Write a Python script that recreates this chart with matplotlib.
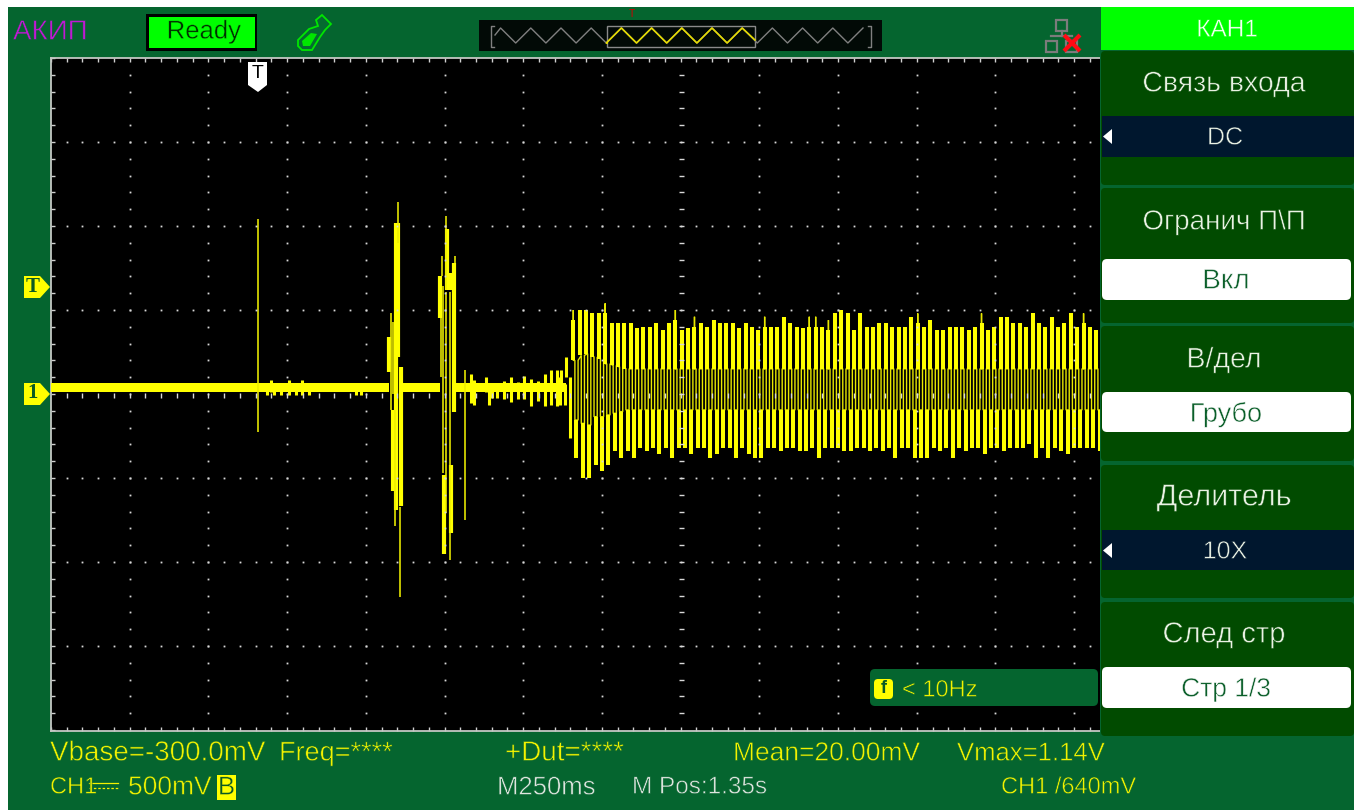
import numpy as np
import matplotlib
matplotlib.use("Agg")
import matplotlib.pyplot as plt
from matplotlib.patches import Rectangle, FancyBboxPatch, Polygon
from matplotlib.patheffects import Stroke

plt.rcParams['font.family'] = ['Liberation Sans', 'DejaVu Sans']

# === CAPTURE DATA (time in ms after trigger, level in volts) ===
LONE_SPIKE = [7, 1.04, -0.224]

# band = the flat noisy trace before the burst starts
BAND_HI, BAND_LO = 0.064, 0.014
BAND_START = [-650, 461, 632]
BAND_END = [424, 586, 985]

# thick and thin vertical strokes of the two transients (t, top, bottom)
THICK_T = [424, 437, 447, 453, 461, 587, 599, 609, 618, 620, 630]
THICK_TOP = [0.34, -0.095, 1.02, 1.02, 0.16, 0.70, -0.48, 0.98, 0.72, -0.42, 0.78]
THICK_BOT = [0.13, -0.58, -0.69, 0.22, -0.667, 0.45, -0.95, 0.62, 0.62, -0.83, -0.105]
THIN_T = [431, 435, 442, 451, 457, 588, 591, 594, 606, 606, 616, 618, 632, 665]
THIN_TOP = [0.48, 0.43, -0.095, 1.14, -0.67, 0.45, 0.82, 0.64, 1.06, 0.61, 0.61, -0.83, 0.82, 0.14]
THIN_BOT = [-0.095, 0.0, -0.786, 0.9, -1.206, 0.1, 0.70, -0.47, 0.62, -0.71, -0.83, -0.99, 0.78, -0.75]

# small noise bumps on the band
BUMP_T = [37, 48, 58, 79, 106, 127, 148, 169, 318, 334, 683, 694, 731, 741, 752, 768,
          790, 810, 832, 851, 874, 896, 918, 937, 956, 966, 969, 982, 987, 998]
BUMP_TOP = [0.063, 0.083, 0.063, 0.063, 0.083, 0.063, 0.083, 0.063, 0.063, 0.063, 0.12, 0.083,
            0.103, 0.063, 0.063, 0.063, 0.08, 0.10, 0.07, 0.11, 0.09, 0.08, 0.12, 0.14, 0.14,
            0.10, 0.14, 0.06, 0.22, 0.10]
BUMP_BOT = [-0.006, 0.014, -0.006, -0.006, -0.006, -0.006, -0.006, -0.006, -0.006, -0.006,
            -0.055, -0.065, 0.014, -0.065, -0.026, -0.026, -0.03, -0.05, -0.03, -0.03, -0.07,
            -0.04, -0.07, -0.065, -0.07, -0.065, 0.02, -0.065, 0.10, -0.26]

# periodic part, one top and one bottom per mains cycle
BURST_T0 = 1009
BURST_PERIOD = 20.26
BURST_TOP = [0.50, 0.50, 0.50, 0.48, 0.48, 0.54, 0.42, 0.42, 0.42, 0.42, 0.39, 0.40, 0.40, 0.42,
             0.38, 0.42, 0.50, 0.38, 0.39, 0.46, 0.42, 0.40, 0.44, 0.42, 0.42, 0.42,
             0.39, 0.42, 0.40, 0.38, 0.46, 0.40, 0.40, 0.46, 0.42, 0.40, 0.39, 0.46, 0.46, 0.40,
             0.44, 0.48, 0.50, 0.48, 0.38, 0.48, 0.40, 0.40, 0.42, 0.42, 0.40, 0.40, 0.40, 0.46,
             0.48, 0.40, 0.44, 0.38, 0.38, 0.40, 0.40, 0.40, 0.38, 0.40, 0.48, 0.38, 0.40, 0.46,
             0.46, 0.42, 0.42, 0.40, 0.48, 0.42, 0.40, 0.46, 0.40, 0.42, 0.48, 0.40, 0.48, 0.40, 0.38]
BURST_BOT = [-0.38, -0.50, -0.50, -0.42, -0.46, -0.42, -0.34, -0.38, -0.34, -0.38, -0.32, -0.34,
             -0.32, -0.36, -0.32, -0.38, -0.32, -0.32, -0.36, -0.32, -0.32, -0.38, -0.36, -0.32,
             -0.32, -0.38,
             -0.32, -0.36, -0.38, -0.38, -0.32, -0.32, -0.34, -0.32, -0.32, -0.34, -0.34, -0.32,
             -0.38, -0.32, -0.32, -0.32, -0.34, -0.34, -0.32, -0.32, -0.34, -0.32, -0.34, -0.32,
             -0.38, -0.32, -0.32, -0.38,
             -0.38, -0.38, -0.32, -0.34, -0.32, -0.38, -0.32, -0.34, -0.32, -0.32, -0.36, -0.32,
             -0.32, -0.34, -0.32, -0.32, -0.32, -0.30, -0.38, -0.32, -0.38, -0.32, -0.34, -0.36,
             -0.32, -0.32, -0.32, -0.32, -0.34]
SHELF_HI_START = [0.20, 0.23, 0.24, 0.22, 0.21, 0.18, 0.17, 0.16]
SHELF_LO_START = [-0.155, -0.175, -0.185, -0.135, -0.135, -0.125, -0.115, -0.105]
SHELF_HI, SHELF_LO = 0.15, -0.095
SPIKE_CYCLES = [0, 5, 16, 19, 30, 37, 38, 40, 54, 64, 80]

YEL = '#ffff00'
BODY = '#05652f'
PANEL = '#014b00'
TXT = '#eaf2e4'
SCALE_TEXT = '#f2f200'

# === FIGURE AND UI LAYER ===
fig = plt.figure(figsize=(13.54, 8.10), dpi=100, facecolor='white')
W, H = 1354.0, 810.0

back = fig.add_axes([0, 0, 1, 1], zorder=0)
back.set_xlim(0, W); back.set_ylim(H, 0); back.axis('off')
back.add_patch(Rectangle((8, 7), W - 8, H - 7, fc=BODY, ec='none'))

# === SCOPE SCREEN ===
ax = fig.add_axes([51 / W, 1 - 731 / H, 1049 / W, 673 / H], zorder=1, facecolor='black')
ax.set_xlim(-650, 2682)
ax.set_ylim(-2.006, 2.0)
for side in ['top', 'bottom', 'left']:
    ax.spines[side].set_color('#c4c8c4')
    ax.spines[side].set_linewidth(1.3)
ax.spines['right'].set_visible(False)
x_sub = np.arange(-650, 2683, 50)
y_sub = np.arange(-2.0, 2.01, 0.1)
ax.set_xticks(x_sub); ax.set_yticks(y_sub)
ax.tick_params(direction='in', top=True, bottom=True, left=True, right=False, length=2.6,
               width=1.0, color='#d0d0d0', labelleft=False, labelbottom=False)

# trace
thin, thick = 1.15, 3.0
for a, b in zip(BAND_START, BAND_END):
    ax.fill_between([a, b], BAND_HI, BAND_LO, color=YEL, lw=0, zorder=3)
ax.vlines(BUMP_T, BUMP_BOT, BUMP_TOP, color=YEL, lw=2.2, zorder=3)
ax.vlines(THICK_T, THICK_BOT, THICK_TOP, color=YEL, lw=thick, zorder=3)
ax.vlines(THIN_T, THIN_BOT, THIN_TOP, color='#eeee00', lw=thin, zorder=3)
ax.vlines(LONE_SPIKE[0], LONE_SPIKE[2], LONE_SPIKE[1], color='#eeee00', lw=thin, zorder=3)

px, py = [], []
T = BURST_PERIOD
bar_t, bar_top, bar_bot = [], [], []
for i, (top, bot) in enumerate(zip(BURST_TOP, BURST_BOT)):
    t = BURST_T0 + i * T
    hi = SHELF_HI_START[i] if i < len(SHELF_HI_START) else SHELF_HI
    lo = SHELF_LO_START[i] if i < len(SHELF_LO_START) else SHELF_LO
    sh = top - 0.06 if i in SPIKE_CYCLES else top
    bar_t += [t, t + .5 * T]
    bar_top += [sh, lo]
    bar_bot += [hi, bot]
    if i in SPIKE_CYCLES:
        px += [t, t, t]
        py += [hi, top, hi]
    px += [t + .25 * T, t + .25 * T, t + .75 * T, t + .75 * T]
    py += [hi, lo, lo, hi]
ax.plot(px, py, color='#e8e800', lw=1.0, solid_joinstyle='miter', solid_capstyle='butt', zorder=3)
ax.vlines(bar_t, bar_bot, bar_top, color=YEL, lw=2.9, zorder=3)

# graticule sits over the trace
div_x = np.arange(-400, 2682, 250)
div_y = np.arange(-1.5, 1.51, 0.5)
gx, gy = np.meshgrid(div_x[div_x != 1350], y_sub[1:-1])
ax.plot(gx.ravel(), gy.ravel(), ls='none', marker='s', ms=1.3, mew=0, color='#d8d8d8', zorder=4)
rows = div_y[np.abs(div_y) > 0.01]
gx, gy = np.meshgrid(x_sub[1:], rows)
ax.plot(gx.ravel(), gy.ravel(), ls='none', marker='s', ms=1.3, mew=0, color='#d8d8d8', zorder=4)
ax.plot(x_sub[1:], np.zeros(len(x_sub) - 1) - 0.004, ls='none', marker='|', ms=3.6, mew=1.0,
        color='#d8d8d8', zorder=4)
ax.plot(np.full(len(y_sub) - 2, 1350), y_sub[1:-1], ls='none', marker='_', ms=3.6, mew=1.0,
        color='#d8d8d8', zorder=4)

# === OVERLAY: MENU, MARKERS, TEXT ===
ui = fig.add_axes([0, 0, 1, 1], zorder=2)
ui.set_xlim(0, W); ui.set_ylim(H, 0); ui.axis('off'); ui.patch.set_alpha(0)

def label(x, y, s, color=TXT, size=17.5, ha='left', bg=None, thinning=0.4, **kw):
    t = ui.text(x, y + 1.5, s, color=color, fontsize=size, ha=ha, va='center', **kw)
    # the scope font is hairline, so eat into the glyph edge with the background colour
    if bg:
        t.set_path_effects([Stroke(linewidth=thinning, foreground=bg)])

def rbox(x0, y0, x1, y1, fc, r=4):
    ui.add_patch(FancyBboxPatch((x0 + r, y0 + r), x1 - x0 - 2 * r, y1 - y0 - 2 * r,
                                boxstyle=f"round,pad={r},rounding_size={r}", fc=fc, ec='none'))

# right hand menu
ui.add_patch(Rectangle((1101, 7), W - 1101, 43, fc='#00ff00', ec='none'))
ui.add_patch(Rectangle((1100, 50), W - 1100, 687, fc=BODY, ec='none'))
for y0, y1 in [(51, 185), (188, 323), (326, 461), (465, 598), (602, 736)]:
    rbox(1101, y0, W, y1, PANEL)
for y0, y1 in [(116, 157), (530, 570)]:
    ui.add_patch(Rectangle((1102, y0), W - 1102, y1 - y0, fc='#00172e', ec='none'))
    ui.add_patch(Polygon([(1112, y0 + 13), (1112, y0 + 28), (1103, y0 + 20.5)], fc='white', ec='none'))
for y0, y1 in [(259, 300), (392, 432), (667, 708)]:
    rbox(1102, y0, 1351, y1, 'white', r=5)

label(1227, 29, 'КАН1', color='#f4fff4', size=17.5, ha='center', bg='#00ff00', thinning=0.3)
for y, s, fs in [(84, 'Связь входа', 20.5), (222, 'Огранич П\\П', 20), (360, 'В/дел', 20.5),
                 (497, 'Делитель', 22), (634, 'След стр', 21)]:
    label(1224, y - 1, s, size=fs, ha='center', bg=PANEL)
for y, s, fs in [(137, 'DC', 18), (551, '10X', 18)]:
    label(1225, y - 1, s, size=fs, ha='center', bg='#00172e')
for y, s, fs in [(281, 'Вкл', 20), (414, 'Грубо', 19.5), (689, 'Стр 1/3', 19)]:
    label(1226, y - 1, s, color='#0b5f2a', size=fs, ha='center', bg='white')

# top status row
label(13, 31, 'АКИП', color='#c018d4', size=20, bg=BODY)
ui.add_patch(Rectangle((146, 14), 111, 37, fc='black', ec='none'))
ui.add_patch(Rectangle((149, 17), 106, 31, fc='#00ff00', ec='none'))
label(204, 30, 'Ready', color='#003000', size=18.5, ha='center', bg='#00ff00', thinning=0.3)
ui.add_patch(Polygon([(298, 40), (309, 29), (318, 26), (316, 20), (322, 15), (331, 24), (325, 30),
                      (320, 37), (312, 50), (302, 50), (298, 46)], fc='#056b30', ec='#00e600', lw=1.3))
ui.add_patch(Polygon([(302, 41), (311, 33), (317, 34), (310, 46), (303, 46)], fc='#00e600', ec='none'))

# memory strip
ui.add_patch(Rectangle((479, 20), 403, 31, fc='#020a06', ec='none'))
peaks = np.arange(500.6, 870, 30.2)
wx, wy = [495], [35]
for p in peaks:
    wx += [p, p + 15.1]
    wy += [28, 43]
wx, wy = np.array(wx), np.array(wy)
ui.plot(wx[wx <= 868], wy[wx <= 868], color='#808080', lw=1.0)
inside = (wx >= 606) & (wx <= 755)
ui.plot(np.r_[607, wx[inside], 755], np.r_[43, wy[inside], 40], color='#e6dc00', lw=1.2)
ui.add_patch(Rectangle((607, 26), 148, 21, fc='none', ec='#8a8a8a', lw=1.0))
ui.plot([494, 491, 491, 494], [26, 26, 47, 47], color='#808080', lw=1.0)
ui.plot([868, 871, 871, 868], [26, 26, 47, 47], color='#808080', lw=1.0)
label(632, 12.5, 'T', color='#d00000', size=7.5, ha='center')

# network icon
for x0, y0 in [(1056, 20), (1046, 41), (1066, 41)]:
    ui.add_patch(Rectangle((x0, y0), 11, 11, fc='none', ec='#7c7c7c', lw=1.6))
ui.plot([1061.5, 1061.5], [31, 36], color='#7c7c7c', lw=1.6)
ui.plot([1051, 1072], [36, 36], color='#7c7c7c', lw=1.6)
ui.plot([1064, 1080], [35, 51], color='#ff0a14', lw=3.0, solid_capstyle='butt')
ui.plot([1080, 1064], [35, 51], color='#ff0a14', lw=3.0, solid_capstyle='butt')

# trigger and channel markers
ui.add_patch(Polygon([(248, 62), (267, 62), (267, 85), (258, 92), (248, 85)], fc='white', ec='none'))
label(257.5, 72, 'T', color='black', size=14, ha='center')
for y, s in [(287, 'T'), (394, '1')]:
    ui.add_patch(Polygon([(24, y - 11), (40, y - 11), (50, y), (40, y + 11), (24, y + 11)],
                         fc=YEL, ec='none'))
    label(32.5, y - 2, s, color='#0a5a25', size=15, ha='center', family=['Liberation Serif'], weight='bold')

# trigger frequency box
rbox(870, 669, 1098, 706, BODY, r=5)
rbox(874, 679, 893, 699, YEL, r=4)
label(883.5, 687, 'f', color='#0a5a25', size=13, ha='center', weight='bold')
label(902, 689, '< 10Hz', color=SCALE_TEXT, size=17, bg=BODY)

# readouts under the screen
for x, s, fs in [(50, 'Vbase=-300.0mV', 20), (279, 'Freq=****', 19.5), (505, '+Dut=****', 20),
                 (733, 'Mean=20.00mV', 19), (957, 'Vmax=1.14V', 18.5)]:
    label(x, 752, s, color=SCALE_TEXT, size=fs, bg=BODY)
label(50, 786, 'CH1', color=SCALE_TEXT, size=17,
      family=['Liberation Sans Narrow', 'Liberation Sans'], bg=BODY)
ui.plot([89, 118], [783, 783], color=SCALE_TEXT, lw=0.9)
ui.plot([89, 118], [788, 788], color=SCALE_TEXT, lw=0.9, ls=(0, (2, 1.5)))
label(128, 786, '500mV', color=SCALE_TEXT, size=19, bg=BODY)
ui.add_patch(Rectangle((217, 775), 19, 25, fc=YEL, ec='none'))
label(226.5, 786, 'B', color='#0a5a25', size=18.5, ha='center', bg=YEL, thinning=0.3)
label(497, 786, 'M250ms', color='#dfe5df', size=18.5, bg=BODY)
label(632, 786, 'M Pos:1.35s', color='#dfe5df', size=17.5, bg=BODY)
label(1001, 786, 'CH1 /640mV', color=SCALE_TEXT, size=17, bg=BODY)

plt.savefig('out.png', dpi=100, facecolor='white')
plt.close()
